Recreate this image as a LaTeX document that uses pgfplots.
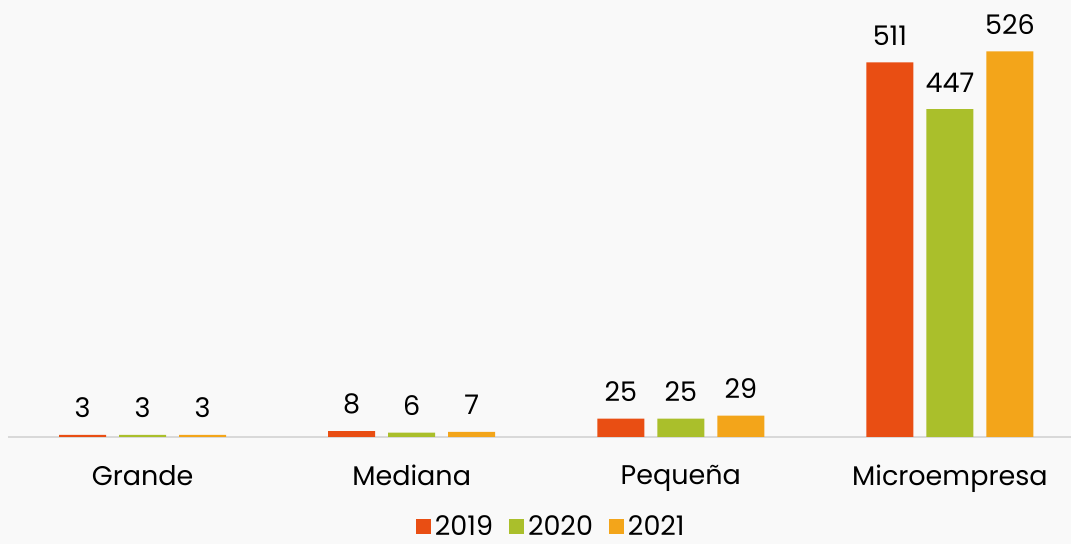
\documentclass[border=0pt]{standalone}
\usepackage{pgfplots}
\pgfplotsset{compat=1.18}
\usepackage{fontspec}
\setmainfont{Poppins}
\definecolor{cA}{HTML}{E94E13}
\definecolor{cB}{HTML}{AABF2B}
\definecolor{cC}{HTML}{F3A51A}
\definecolor{bg}{HTML}{F9F9F9}
\begin{document}
\begin{tikzpicture}
\useasboundingbox[fill=bg] (-4pt,-53.5pt) rectangle (531.5pt,218.5pt);
\begin{axis}[
  at={(0,0)}, anchor=south west,
  scale only axis, width=531.5pt, height=218.5pt,
  ybar=6.5pt, bar width=23.5pt,
  xmin=-0.5, xmax=3.45, ymin=0, ymax=596,
  axis x line*=bottom, axis y line=none,
  x axis line style={draw=black!15, line width=1pt, -},
  xtick={0,1,2,3}, xticklabels={Grande,Mediana,Pequeña,Microempresa},
  major tick length=0pt,
  xticklabel style={font=\fontsize{13.5}{16}\selectfont, yshift=-10.5pt},
  nodes near coords,
  every node near coord/.append style={font=\fontsize{13.5}{16}\selectfont, black, yshift=5pt},
  /pgf/number format/assume math mode=true,
  legend style={at={(0.512,-0.205)}, anchor=center, draw=none, fill=none,
    font=\fontsize{13.5}{16}\selectfont, legend columns=3,
    /tikz/every even column/.append style={column sep=6pt}},
  legend image code/.code={\fill[#1] (0pt,-3.75pt) rectangle (7.5pt,3.75pt);},
]
\addplot[fill=cA, draw=none] coordinates {(0,3) (1,8) (2,25) (3,511)};
\addplot[fill=cB, draw=none] coordinates {(0,3) (1,6) (2,25) (3,447)};
\addplot[fill=cC, draw=none] coordinates {(0,3) (1,7) (2,29) (3,526)};
\legend{2019,2020,2021}
\end{axis}
\end{tikzpicture}
\end{document}
